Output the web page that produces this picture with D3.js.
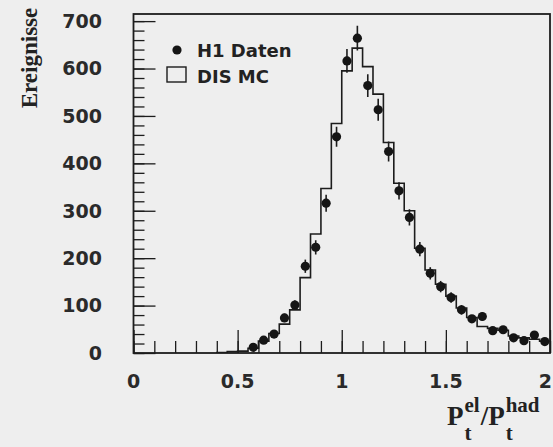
<!DOCTYPE html>
<html>
<head>
<meta charset="utf-8">
<script src="https://cdn.jsdelivr.net/npm/d3@7"></script>
<style>
  html, body { margin: 0; padding: 0; background: #eeeeee; }
  svg { display: block; }
</style>
</head>
<body>
<svg id="chart" width="553" height="447"></svg>
<script>
// ---- data ----
const binWidth = 0.05;
// MC histogram: left edges of bins and their contents
const mcBinStarts = [0.40,0.45,0.50,0.55,0.60,0.65,0.70,0.75,0.80,0.85,0.90,0.95,1.00,1.05,1.10,1.15,1.20,1.25,1.30,1.35,1.40,1.45,1.50,1.55,1.60,1.65,1.70,1.75,1.80,1.85,1.90,1.95];
const mcValues    = [1,3,4,10,25,41,61,91,159,251,347,484,595,643,604,546,444,358,300,221,175,145,120,95,75,56,52,48,36,32,29,25];
// H1 data points: bin centres, counts, errors
const dataX   = [0.575,0.625,0.675,0.725,0.775,0.825,0.875,0.925,0.975,1.025,1.075,1.125,1.175,1.225,1.275,1.325,1.375,1.425,1.475,1.525,1.575,1.625,1.675,1.725,1.775,1.825,1.875,1.925,1.975];
const dataY   = [12,27,40,74,101,183,223,316,456,616,664,564,513,425,342,286,219,168,140,117,91,72,77,47,49,32,26,38,24];
const dataErr = [3,5,6,9,10,14,15,18,21,25,26,24,23,21,18,17,15,13,12,11,10,8,9,7,7,6,5,6,5];
const xTickValues = [0, 0.5, 1, 1.5, 2];
const xTickLabels = ["0", "0.5", "1", "1.5", "2"];
const yTickValues = [0,100,200,300,400,500,600,700];
const legendLabels = ["H1 Daten", "DIS MC"];
const yTitle = "Ereignisse";

// ---- layout ----
const svg = d3.select("#chart");
const W = 553;
const X0 = 133.5, X1 = 550, Y0 = 353, Y1 = 14;
const x = d3.scaleLinear().domain([0, 2]).range([X0, X1]);
const y = d3.scaleLinear().domain([0, 715]).range([Y0, Y1]);
const ink = "#1c1c1c";
const sans = "'DejaVu Sans', sans-serif";
const serif = "'Liberation Serif', 'Times New Roman', serif";

svg.append("clipPath").attr("id","clip").append("rect")
  .attr("x", X0).attr("y", Y1).attr("width", X1 - X0).attr("height", Y0 - Y1);

// ---- ticks (inside) ----
const yMinor = d3.range(0, 715, 20);
const yAxisG = svg.append("g").attr("transform", `translate(${X0},0)`);
yAxisG.call(d3.axisRight(y).tickValues(yMinor).tickSize(11).tickFormat(""));
yAxisG.append("g").call(d3.axisRight(y).tickValues(yTickValues).tickSize(22).tickFormat(""));
yAxisG.selectAll("path.domain").remove();
yAxisG.selectAll("line").attr("stroke", ink).attr("stroke-width", 1.3);

const xMinor = d3.range(0, 2.001, 0.1);
const xAxisG = svg.append("g").attr("transform", `translate(0,${Y0})`);
xAxisG.call(d3.axisTop(x).tickValues(xMinor).tickSize(12).tickFormat(""));
xAxisG.append("g").call(d3.axisTop(x).tickValues(xTickValues).tickSize(23).tickFormat(""));
xAxisG.selectAll("path.domain").remove();
xAxisG.selectAll("line").attr("stroke", ink).attr("stroke-width", 1.3);

// tick labels
svg.append("g").selectAll("text").data(yTickValues).join("text")
  .attr("x", 102).attr("y", d => y(d)).attr("dy", "0.36em")
  .attr("text-anchor", "end")
  .attr("font-family", sans).attr("font-weight", "bold").attr("font-size", 19)
  .attr("fill", "#2a2a2a").text(d => d);
const lastX = xTickValues.length - 1;
svg.append("g").selectAll("text").data(xTickValues).join("text")
  .attr("x", (d, i) => i === lastX ? W - 1 : x(d)).attr("y", 388)
  .attr("text-anchor", (d, i) => i === lastX ? "end" : "middle")
  .attr("font-family", sans).attr("font-weight", "bold").attr("font-size", 19)
  .attr("fill", "#2a2a2a").text((d, i) => xTickLabels[i]);

// ---- MC histogram ----
const histPts = [[mcBinStarts[0], 0]];
mcBinStarts.forEach((s, i) => { histPts.push([s, mcValues[i]]); histPts.push([s + binWidth, mcValues[i]]); });
svg.append("path")
  .attr("clip-path", "url(#clip)")
  .attr("d", d3.line().x(d => x(d[0])).y(d => y(d[1]))(histPts))
  .attr("fill", "none").attr("stroke", ink).attr("stroke-width", 1.6);

// ---- data points ----
const pts = svg.append("g").attr("clip-path", "url(#clip)");
pts.selectAll("line").data(dataX).join("line")
  .attr("x1", d => x(d)).attr("x2", d => x(d))
  .attr("y1", (d, i) => y(dataY[i] + dataErr[i]))
  .attr("y2", (d, i) => y(dataY[i] - dataErr[i]))
  .attr("stroke", ink).attr("stroke-width", 1.6);
pts.selectAll("circle").data(dataX).join("circle")
  .attr("cx", d => x(d)).attr("cy", (d, i) => y(dataY[i]))
  .attr("r", 4.6).attr("fill", "#151515");

// ---- frame ----
svg.append("rect").attr("x", X0).attr("y", Y1).attr("width", X1 - X0).attr("height", Y0 - Y1)
  .attr("fill", "none").attr("stroke", ink).attr("stroke-width", 1.8);

// ---- legend ----
const lg = svg.append("g");
lg.append("circle").attr("cx", 177).attr("cy", 50).attr("r", 4.6).attr("fill", "#151515");
lg.append("text").attr("x", 197).attr("y", 57).attr("font-family", sans).attr("font-weight", "bold")
  .attr("font-size", 18).attr("fill", "#222").text(legendLabels[0]);
lg.append("rect").attr("x", 167).attr("y", 67).attr("width", 19).attr("height", 15)
  .attr("fill", "none").attr("stroke", ink).attr("stroke-width", 1.4);
lg.append("text").attr("x", 197).attr("y", 83).attr("font-family", sans).attr("font-weight", "bold")
  .attr("font-size", 18).attr("fill", "#222").text(legendLabels[1]);

// ---- axis titles ----
svg.append("text")
  .attr("transform", "translate(37,58) rotate(-90)")
  .attr("text-anchor", "middle")
  .attr("font-family", serif).attr("font-weight", "bold").attr("font-size", 23)
  .attr("fill", "#222").text(yTitle);

const tg = svg.append("g").attr("font-family", serif).attr("font-weight", "bold").attr("fill", "#222");
let cx = 447; const base = 425;
function piece(txt, size, dy) {
  const t = tg.append("text").attr("x", cx).attr("y", base + dy).attr("font-size", size).text(txt);
  return t.node().getComputedTextLength();
}
let w = piece("P", 27, 0); cx += w + 1;
let w1 = piece("el", 21, -13); piece("t", 21, 15); cx += w1 + 1;
w = piece("/P", 27, 0); cx += w + 1;
piece("had", 21, -13); piece("t", 21, 15);
</script>
</body>
</html>
